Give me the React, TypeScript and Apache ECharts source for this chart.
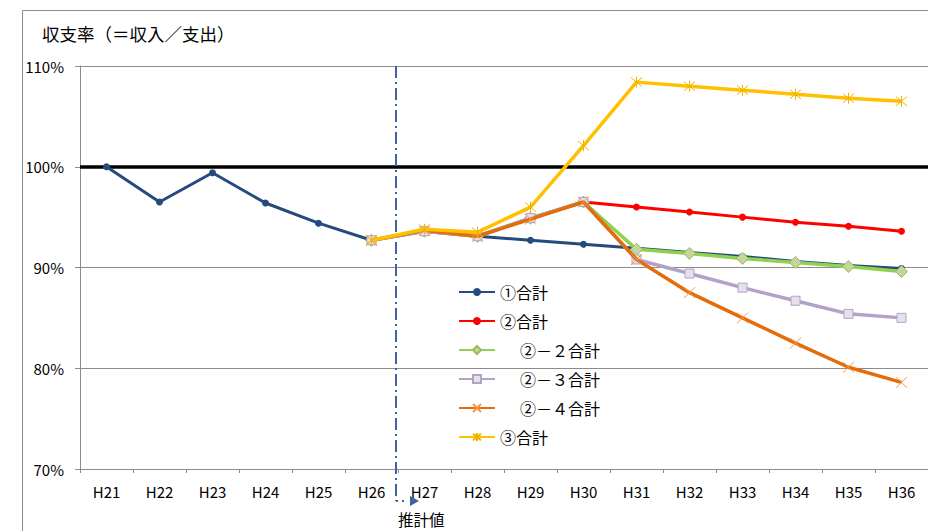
import React, { useEffect, useRef } from "react";
import * as echarts from "echarts";

const categories = ["H21", "H22", "H23", "H24", "H25", "H26", "H27", "H28", "H29", "H30", "H31", "H32", "H33", "H34", "H35", "H36"];
const yTicks = [70, 80, 90, 100, 110];
const total1 = [100, 96.5, 99.4, 96.4, 94.4, 92.7, 93.6, 93.1, 92.7, 92.3, 91.9, 91.5, 91.1, 90.6, 90.2, 89.9];
const total2 = [null, null, null, null, null, 92.7, 93.6, 93.1, 94.9, 96.5, 96.0, 95.5, 95.0, 94.5, 94.1, 93.6];
const total2_2 = [null, null, null, null, null, 92.7, 93.6, 93.1, 94.9, 96.5, 91.8, 91.4, 90.9, 90.5, 90.1, 89.6];
const total2_3 = [null, null, null, null, null, 92.7, 93.6, 93.1, 94.9, 96.5, 90.8, 89.4, 88.0, 86.7, 85.4, 85.0];
const total2_4 = [null, null, null, null, null, 92.7, 93.7, 93.1, 94.8, 96.5, 90.8, 87.5, 85.0, 82.5, 80.1, 78.6];
const total3 = [null, null, null, null, null, 92.7, 93.8, 93.5, 96.0, 102.1, 108.4, 108.0, 107.6, 107.2, 106.8, 106.5];

const names = ["①合計", "②合計", "\u3000\u2005②－２合計", "\u3000\u2005②－３合計", "\u3000\u2005②－４合計", "③合計"];

const FONT = "'Noto Sans CJK JP', 'Noto Sans', sans-serif";
const CROSS = "path://M0,0L10,10M10,0L0,10";
const STAR = "path://M0,0L10,10M10,0L0,10M5,-1L5,11";

export default function App() {
  const ref = useRef<HTMLDivElement>(null);
  useEffect(() => {
    if (!ref.current) return;
    const chart = echarts.init(ref.current, null, { renderer: "svg" });
    const option: any = {
      animation: false,
      backgroundColor: "#ffffff",
      textStyle: { fontFamily: FONT },
      title: {
        text: "収支率（＝収入／支出）",
        left: 37,
        top: 20,
        textStyle: { fontSize: 17.5, fontWeight: "normal", color: "#000", fontFamily: FONT },
      },
      grid: { left: 80, top: 66, width: 849, height: 403 },
      legend: {
        orient: "vertical",
        left: 453,
        top: 279,
        itemWidth: 36,
        itemHeight: 10,
        itemGap: 13,
        data: names,
        textStyle: { fontSize: 16, color: "#000", fontFamily: FONT },
      },
      xAxis: {
        type: "category",
        data: categories,
        boundaryGap: true,
        axisLine: { lineStyle: { color: "#8c8c8c", width: 1 } },
        axisTick: { show: true, length: 4, lineStyle: { color: "#8c8c8c" } },
        axisLabel: { color: "#000", fontSize: 15, margin: 15, fontFamily: FONT },
        splitLine: { show: false },
      },
      yAxis: {
        type: "value",
        min: yTicks[0],
        max: yTicks[yTicks.length - 1],
        interval: 10,
        axisLine: { show: true, lineStyle: { color: "#8c8c8c", width: 1 } },
        axisTick: { show: true, length: 5, lineStyle: { color: "#8c8c8c" } },
        axisLabel: { color: "#000", fontSize: 15, margin: 16, formatter: "{value}%", fontFamily: FONT },
        splitLine: { show: true, lineStyle: { color: "#8c8c8c", width: 1 } },
      },
      series: [
        {
          name: names[0],
          type: "line",
          data: total1,
          symbol: "circle",
          symbolSize: 7,
          lineStyle: { color: "#254a7e", width: 3 },
          itemStyle: { color: "#254a7e" },
          z: 2,
          markLine: {
            silent: true,
            symbol: ["none", "none"],
            label: { show: false },
            lineStyle: { color: "#000", width: 3.5, type: "solid" },
            data: [{ yAxis: 100 }],
            z: 1,
          },
        },
        {
          name: names[1],
          type: "line",
          data: total2,
          symbol: "circle",
          symbolSize: 7,
          lineStyle: { color: "#ff0000", width: 3 },
          itemStyle: { color: "#ff0000" },
          z: 3,
        },
        {
          name: names[2],
          type: "line",
          data: total2_2,
          symbol: "diamond",
          symbolSize: 12,
          lineStyle: { color: "#92d050", width: 3.5 },
          itemStyle: { color: "#c3d69b", borderColor: "#9bbb59", borderWidth: 1 },
          z: 4,
        },
        {
          name: names[3],
          type: "line",
          data: total2_3,
          symbol: "rect",
          symbolSize: 9,
          lineStyle: { color: "#b3a2c7", width: 3.5 },
          itemStyle: { color: "#e6e0ec", borderColor: "#b3a2c7", borderWidth: 1 },
          z: 5,
        },
        {
          name: names[4],
          type: "line",
          data: total2_4,
          symbol: CROSS,
          symbolSize: 11,
          lineStyle: { color: "#e46c0a", width: 3.5 },
          itemStyle: { color: "#f79646", borderColor: "#f79646", borderWidth: 1 },
          z: 6,
        },
        {
          name: names[5],
          type: "line",
          data: total3,
          symbol: STAR,
          symbolSize: 11,
          lineStyle: { color: "#ffc000", width: 3.5 },
          itemStyle: { color: "#f0b400", borderColor: "#f0b400", borderWidth: 1 },
          z: 7,
        },
      ],
    };
    chart.setOption(option);

    const xa = chart.convertToPixel({ xAxisIndex: 0 }, categories[5]) as number;
    const xb = chart.convertToPixel({ xAxisIndex: 0 }, categories[6]) as number;
    const yTop = chart.convertToPixel({ yAxisIndex: 0 }, yTicks[yTicks.length - 1]) as number;
    const yBottom = chart.convertToPixel({ yAxisIndex: 0 }, yTicks[0]) as number;
    const xm = (xa + xb) / 2 - 2;
    const yArrow = yBottom + 32;
    const dashColor = "#3b64a0";
    chart.setOption({
      graphic: [
        {
          type: "rect",
          silent: true,
          shape: { x: 22.5, y: 10.5, width: 1000, height: 1000 },
          style: { fill: "none", stroke: "#8c8c8c", lineWidth: 1 },
          z: -1,
        },
        {
          type: "line",
          silent: true,
          shape: { x1: xm, y1: yTop, x2: xm, y2: yArrow },
          style: { stroke: dashColor, lineWidth: 2, lineDash: [12, 4, 2, 4] },
          z: 1,
        },
        {
          type: "line",
          silent: true,
          shape: { x1: xm, y1: yArrow, x2: xm + 12, y2: yArrow },
          style: { stroke: dashColor, lineWidth: 2, lineDash: [2, 4] },
          z: 1,
        },
        {
          type: "polygon",
          silent: true,
          shape: { points: [[xm + 14, yArrow - 5], [xm + 23, yArrow], [xm + 14, yArrow + 5]] },
          style: { fill: dashColor },
          z: 1,
        },
        {
          type: "text",
          silent: true,
          x: xm + 2,
          y: yArrow + 18,
          style: { text: "推計値", fontSize: 15.5, fill: "#000", fontFamily: FONT, verticalAlign: "middle", align: "left" },
          z: 1,
        },
      ],
    });
    return () => chart.dispose();
  }, []);
  return <div ref={ref} style={{ position: "fixed", left: 0, top: 0, width: 928, height: 531 }} />;
}
